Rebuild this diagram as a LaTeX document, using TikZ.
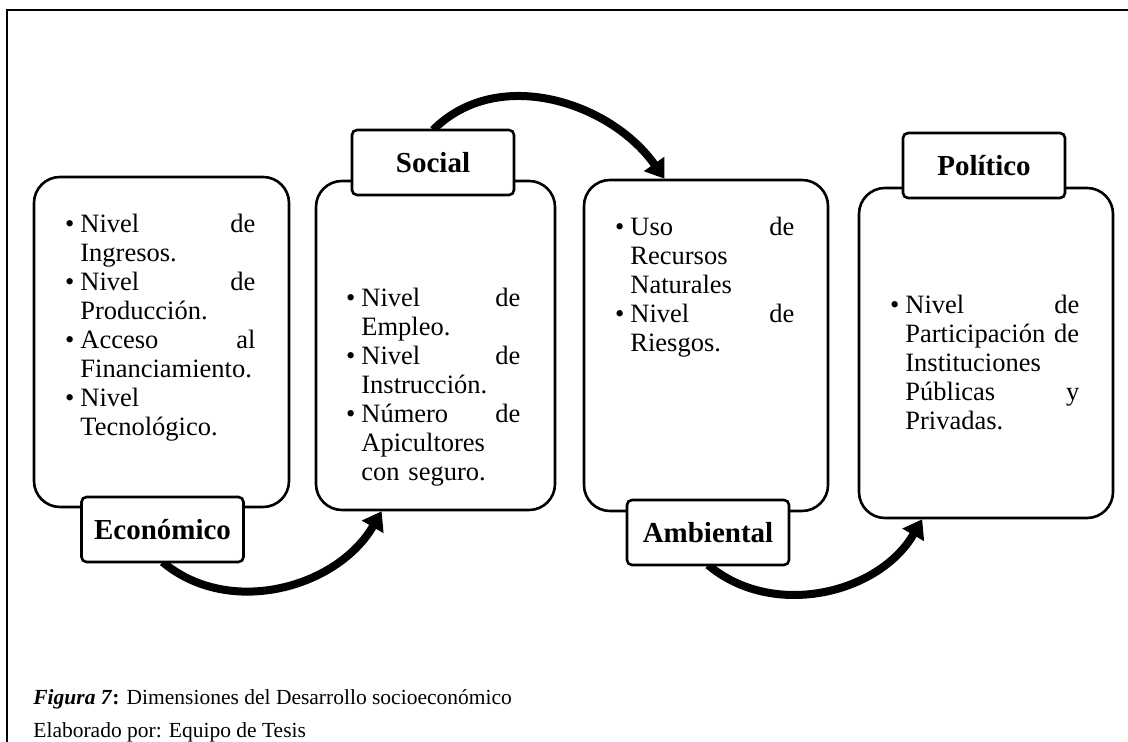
\documentclass[tikz,border=0pt]{standalone}
\usepackage{fontspec}
\setmainfont{Liberation Serif}
\usetikzlibrary{arrows.meta}
\tikzset{
		dim box/.style={
			rectangle,
			draw=black,
			line width=1.3pt,
			rounded corners=13pt,
			fill=white,
			inner sep=0pt
		},
		dim label/.style={
			rectangle,
			draw=black,
			line width=1.3pt,
			rounded corners=2.5pt,
			fill=white,
			minimum width=81pt,
			minimum height=32.5pt,
			inner sep=0pt,
			font=\bfseries\fontsize{14.5}{17}\selectfont
		},
		dim items/.style={
			anchor=north west,
			inner sep=0pt,
			align=left,
			text width=#1,
			font=\fontsize{13.25}{14.5}\selectfont
		},
		cycle arrow/.style={
			line width=4pt,
			-{Triangle[length=9pt,width=12pt]}
		},
		caption text/.style={
			anchor=base west,
			inner sep=0pt,
			font=\fontsize{10.75}{13}\selectfont
		}
	}
\newcommand{\bul}{\makebox[0pt][r]{\textbullet\hspace{3pt}}}

\begin{document}
\begin{tikzpicture}[x=0.5pt, y=0.5pt]
			\useasboundingbox (0,0) rectangle (1128,742);
			\draw [line width=1.2pt] (7,0) |- (1128,732);
			% the four dimensions
			\node (econbox) [dim box, minimum width=127.5pt, minimum height=165pt]   at (161.5,400) {};
			\node (socbox)  [dim box, minimum width=119.5pt, minimum height=164.5pt] at (435.5,396.5) {};
			\node (ambbox)  [dim box, minimum width=122pt,   minimum height=165.5pt] at (706,396.5) {};
			\node (polbox)  [dim box, minimum width=127pt,   minimum height=165pt]   at (986,389) {};
			\node (econtxt) [dim items=87.5pt] at (80,528)
				{\bul Nivel\hfill de\\ Ingresos.\\ \bul Nivel\hfill de\\ Producción.\\
				 \bul Acceso\hfill al\\ Financiamiento.\\ \bul Nivel\\ Tecnológico.};
			\node (soctxt) [dim items=79.5pt] at (361,454)
				{\bul Nivel\hfill de\\ Empleo.\\ \bul Nivel\hfill de\\ Instrucción.\\
				 \bul Número\hfill de\\ Apicultores\\ con seguro.};
			\node (ambtxt) [dim items=82pt] at (630,525)
				{\bul Uso\hfill de\\ Recursos\\ Naturales\\ \bul Nivel\hfill de\\ Riesgos.};
			\node (poltxt) [dim items=87pt] at (905,447)
				{\bul Nivel\hfill de\\ Participación de\\ Instituciones\\ Públicas\hfill y\\ Privadas.};
			% arrows go under the labels
			\coordinate (econstart) at (162.5,180);
			\coordinate (socstart) at (433,612);
			\coordinate (ambstart) at (708,177);
			\draw [cycle arrow] (econstart) to [out=-40, in=240] (socbox.-108.6);
			\draw [cycle arrow] (socstart) to [out=45, in=125] (ambbox.104.6);
			\draw [cycle arrow] (ambstart) to [out=-40, in=240] (polbox.-111.8);
			\node (econlab) [dim label] at (162.5,212.5) {Económico};
			\node (soclab)  [dim label] at (433,579.5) {Social};
			\node (amblab)  [dim label] at (708,209.5) {Ambiental};
			\node (pollab)  [dim label] at (984,576.5) {Político};
			% caption
			\node (fig) [caption text] at (33,37)
				{\textbf{\textit{Figura 7}}\textbf{:} Dimensiones del Desarrollo socioeconómico};
			\node (autor) [caption text] at (33,4) {Elaborado por: Equipo de Tesis};
		\end{tikzpicture}
\end{document}
